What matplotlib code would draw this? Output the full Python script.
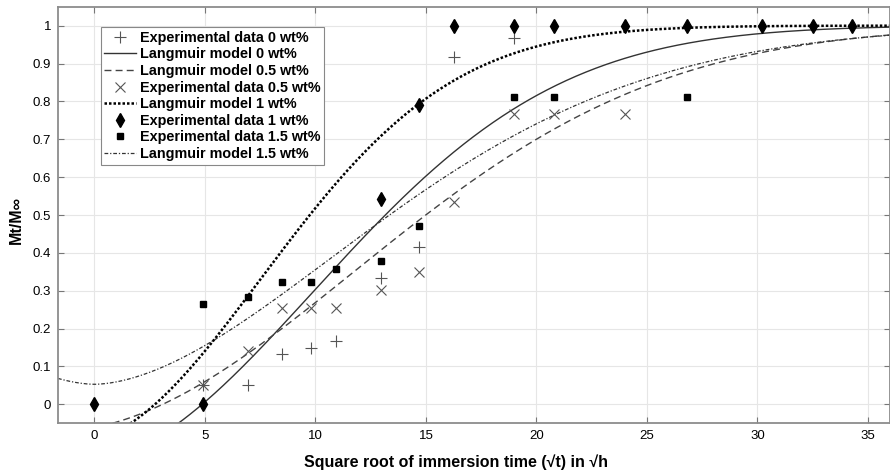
import matplotlib
matplotlib.use("Agg")
import matplotlib.pyplot as plt
import numpy as np

plt.rcParams["font.family"] = ["Liberation Sans", "DejaVu Sans"]

# square root of immersion time (sqrt h) for each sampling
sqrt_t_0 = [4.90, 6.93, 8.49, 9.80, 10.95, 12.96, 14.70, 16.25, 18.97]
mt_0 = [0.051, 0.051, 0.134, 0.150, 0.167, 0.334, 0.415, 0.917, 0.967]

sqrt_t_05 = [4.90, 6.93, 8.49, 9.80, 10.95, 12.96, 14.70, 16.25, 18.97, 20.78, 24.00]
mt_05 = [0.051, 0.141, 0.255, 0.255, 0.255, 0.303, 0.349, 0.535, 0.768, 0.768, 0.768]

sqrt_t_1 = [0.0, 4.90, 12.96, 14.70, 16.25, 18.97, 20.78, 24.00, 26.83, 30.20, 32.50, 34.29]
mt_1 = [0.0, 0.0, 0.542, 0.791, 1.0, 1.0, 1.0, 1.0, 1.0, 1.0, 1.0, 1.0]

sqrt_t_15 = [4.90, 6.93, 8.49, 9.80, 10.95, 12.96, 14.70, 18.97, 20.78, 26.83]
mt_15 = [0.264, 0.284, 0.322, 0.322, 0.358, 0.379, 0.472, 0.811, 0.811, 0.811]

# fitted Langmuir curve parameters: amplitude, rate, offset, exponent
model_0 = [1.162, 0.0041, -1.18, 2.0]
model_05 = [1.075, 0.00259, -2.2, 2.0]
model_1 = [1.105, 0.00672, -1.12, 2.0]
model_15 = [0.947, 0.00685, 0.0, 1.75]

x_ticks = [0, 5, 10, 15, 20, 25, 30, 35]
y_ticks = [0, 0.1, 0.2, 0.3, 0.4, 0.5, 0.6, 0.7, 0.8, 0.9, 1]
y_tick_labels = ["0", "0.1", "0.2", "0.3", "0.4", "0.5", "0.6", "0.7", "0.8", "0.9", "1"]


def langmuir(x, params):
    a, k, x0, p = params
    return 1 - a * np.exp(-k * np.abs(x - x0) ** p)


def main():
    fig = plt.figure(figsize=(8.9, 4.73), dpi=100)
    ax = fig.add_axes([58 / 890, 1 - 423.3 / 473, 832 / 890, 416.6 / 473])

    xs = np.linspace(-1.65, 36, 600)

    h_p0, = ax.plot(sqrt_t_0, mt_0, "+", color="#555555", ms=8, mew=0.8,
                    ls="none", label="Experimental data 0 wt%", zorder=4)
    h_m0, = ax.plot(xs, langmuir(xs, model_0), "-", color="#333333", lw=1.0,
                    label="Langmuir model 0 wt%")
    h_m05, = ax.plot(xs, langmuir(xs, model_05), color="#444444", lw=1.0,
                     dashes=(5, 3), label="Langmuir model 0.5 wt%")
    h_p05, = ax.plot(sqrt_t_05, mt_05, "x", color="#555555", ms=6.5, mew=0.8,
                     ls="none", label="Experimental data 0.5 wt%", zorder=4)
    h_m1, = ax.plot(xs, langmuir(xs, model_1), color="black", lw=1.8,
                    dashes=(1, 0.8), label="Langmuir model 1 wt%")
    h_p1, = ax.plot(sqrt_t_1, mt_1, "d", color="black", ms=7.2, ls="none",
                    label="Experimental data 1 wt%", zorder=5)
    h_p15, = ax.plot(sqrt_t_15, mt_15, "s", color="black", ms=5, ls="none",
                     label="Experimental data 1.5 wt%", zorder=5)
    h_m15, = ax.plot(xs, langmuir(xs, model_15), color="#333333", lw=0.9,
                     dashes=(3, 1.5, 1, 1.5), label="Langmuir model 1.5 wt%")

    ax.set_xlim(-1.65, 36)
    ax.set_ylim(-0.05, 1.05)
    ax.set_xticks(x_ticks)
    ax.set_yticks(y_ticks)
    ax.set_yticklabels(y_tick_labels)
    ax.tick_params(direction="in", length=4, width=0.8, color="#777777",
                   labelsize=9.5, top=True, right=True, pad=5)
    ax.grid(True, color="#e6e6e6", lw=0.8)
    ax.set_axisbelow(True)
    for side in ax.spines.values():
        side.set_color("#8c8c8c")
        side.set_linewidth(1.3)

    ax.set_xlabel("Square root of immersion time (\u221at) in \u221ah",
                  fontsize=11.5, fontweight="bold")
    ax.xaxis.set_label_coords(0.478, -0.104)
    ax.xaxis.label.set_verticalalignment("baseline")
    ax.set_ylabel("Mt/M\u221e", fontsize=11.5, fontweight="bold")
    ax.yaxis.set_label_coords(-0.0505, 0.488)
    ax.yaxis.label.set_verticalalignment("center")

    handles = [h_p0, h_m0, h_m05, h_p05, h_m1, h_p1, h_p15, h_m15]
    leg = ax.legend(handles=handles, loc="upper left",
                    bbox_to_anchor=(0.0513, 0.9506), borderaxespad=0,
                    prop={"weight": "bold", "size": 10.4}, fancybox=False,
                    framealpha=1, edgecolor="#888888", handlelength=2.2,
                    handletextpad=0.25, borderpad=0.25, labelspacing=0.18)
    leg.get_frame().set_linewidth(0.8)

    fig.savefig("out.png", dpi=100)


if __name__ == "__main__":
    main()
